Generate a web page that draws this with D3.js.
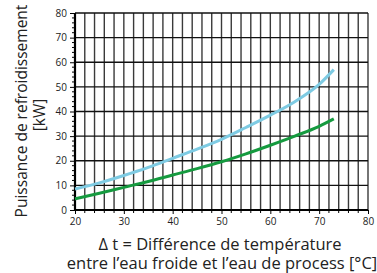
<!DOCTYPE html>
<html>
<head>
<meta charset="utf-8">
<script src="https://cdn.jsdelivr.net/npm/d3@7"></script>
<style>
  body { margin: 0; background: #fff; }
  text { font-family: "Open Sans", sans-serif; fill: #222; }
</style>
</head>
<body>
<script>
const tempDiff = [20, 25, 30, 35, 40, 45, 50, 55, 60, 65, 70, 73];
const blueKw = [8.5, 11, 14, 17.3, 21, 24.7, 28.7, 33.5, 38.5, 44, 51, 57];
const greenKw = [4.5, 6.8, 9.2, 11.6, 14.2, 16.8, 19.6, 22.8, 26.3, 30, 34, 37];
const xTicks = [20, 30, 40, 50, 60, 70, 80];
const yTicks = [0, 10, 20, 30, 40, 50, 60, 70, 80];

const width = 377;
const height = 273;
const margin = { left: 75, right: 9, top: 13, bottom: 63 };

const svg = d3.select('body')
  .append('svg')
  .attr('width', width)
  .attr('height', height);

const x = d3.scaleLinear().domain([20, 80]).range([margin.left, width - margin.right]);
const y = d3.scaleLinear().domain([0, 80]).range([height - margin.bottom, margin.top]);

// axis titles first
svg.append('text')
  .attr('transform', 'translate(27,111) rotate(-90)')
  .attr('text-anchor', 'middle')
  .style('font-size', '15.5px')
  .text('Puissance de refroidissement');
svg.append('text')
  .attr('transform', 'translate(45,115) rotate(-90)')
  .attr('text-anchor', 'middle')
  .style('font-size', '15.5px')
  .text('[kW]');
svg.append('text')
  .attr('x', 220).attr('y', 250)
  .attr('text-anchor', 'middle')
  .style('font-size', '16.5px')
  .text('Δ t = Différence de température');
svg.append('text')
  .attr('x', 222).attr('y', 269)
  .attr('text-anchor', 'middle')
  .style('font-size', '16.5px')
  .text('entre l’eau froide et l’eau de process [°C]');

// y axis
const gy = svg.append('g')
  .attr('transform', `translate(${x(20)},0)`)
  .call(d3.axisLeft(y).tickValues(yTicks).tickSize(5).tickPadding(3));
gy.selectAll('.tick text').style('font-size', '10px');

// x axis
const gx = svg.append('g')
  .attr('transform', `translate(0,${y(0)})`)
  .call(d3.axisBottom(x).tickValues(xTicks).tickSize(4).tickPadding(4));
gx.selectAll('.tick text').style('font-size', '10px');

// grid: vertical every 2, horizontal every 10
const gridV = svg.append('g');
d3.range(22, 81, 2).forEach(d => {
  gridV.append('line')
    .attr('x1', x(d)).attr('x2', x(d))
    .attr('y1', y(0)).attr('y2', y(80))
    .attr('stroke', '#3a3a3a')
    .attr('stroke-width', 1.4);
});
const gridH = svg.append('g');
yTicks.slice(1).forEach(d => {
  gridH.append('line')
    .attr('x1', x(20)).attr('x2', x(80))
    .attr('y1', y(d)).attr('y2', y(d))
    .attr('stroke', '#111')
    .attr('stroke-width', 1.3);
});

// minor ticks
const ticksMinor = svg.append('g');
d3.range(2, 80, 2).filter(d => d % 10 !== 0).forEach(d => {
  ticksMinor.append('line')
    .attr('x1', x(20) - 3).attr('x2', x(20))
    .attr('y1', y(d)).attr('y2', y(d))
    .attr('stroke', '#000');
});
d3.range(22, 80, 2).filter(d => d % 10 !== 0).forEach(d => {
  ticksMinor.append('line')
    .attr('x1', x(d)).attr('x2', x(d))
    .attr('y1', y(0)).attr('y2', y(0) + 3)
    .attr('stroke', '#000');
});

// thick frame lines on left and bottom
svg.append('path')
  .attr('d', `M${x(20)},${y(80)}V${y(0)}H${x(80)}`)
  .attr('fill', 'none')
  .attr('stroke', '#000')
  .attr('stroke-width', 2.2);

// curves
const curve = d3.line()
  .x(d => x(d[0]))
  .y(d => y(d[1]))
  .curve(d3.curveMonotoneX);

svg.append('path')
  .datum(tempDiff.map((t, i) => [t, blueKw[i]]))
  .attr('d', curve)
  .attr('fill', 'none')
  .attr('stroke', '#7ecbe3')
  .attr('stroke-width', 3);

svg.append('path')
  .datum(tempDiff.map((t, i) => [t, greenKw[i]]))
  .attr('d', curve)
  .attr('fill', 'none')
  .attr('stroke', '#159a3f')
  .attr('stroke-width', 3);
</script>
</body>
</html>
